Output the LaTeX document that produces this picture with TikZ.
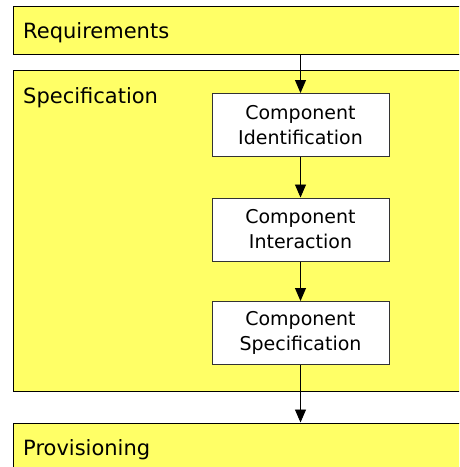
\documentclass[tikz,border=0pt]{standalone}
\usepackage{fontspec}
\setmainfont{DejaVu Sans}
\usetikzlibrary{arrows.meta}
\definecolor{phase}{RGB}{255,255,102}
\begin{document}
\begin{tikzpicture}[x=1pt,y=-1pt,
		phasebox/.style={draw=black,fill=phase,line width=1pt,inner sep=0pt,anchor=north west,minimum width=600pt},
		phaselabel/.style={anchor=base west,inner sep=0pt,font=\fontsize{21}{25}\selectfont},
		taskbox/.style={draw=black!80,fill=white,line width=1pt,inner sep=0pt,minimum width=177pt,minimum height=63pt,align=center,font=\fontsize{19}{25}\selectfont},
		flow/.style={-{Triangle[length=13pt,width=11pt]},line width=0.9pt}]
		\useasboundingbox (0,0) rectangle (459,467);
		\clip (0,0) rectangle (459,467);
		% phases
		\node[phasebox,minimum height=48pt] (req) at (12.5,6) {};
		\node[phasebox,minimum height=321pt] (spec) at (12.5,69.5) {};
		\node[phasebox,minimum height=80pt] (prov) at (12.5,422.5) {};
		\node[phaselabel] (reqlabel) at (23,38) {Requirements};
		\node[phaselabel] (speclabel) at (23,103) {Specification};
		\node[phaselabel] (provlabel) at (23,455) {Provisioning};
		% tasks inside the specification phase
		\node[taskbox] (ident) at (300.5,125) {Component\\Identification};
		\node[taskbox] (inter) at (300.5,229.5) {Component\\Interaction};
		\node[taskbox] (cspec) at (300.5,333) {Component\\Specification};
		\draw[flow] (ident.north |- req.south) -- (ident);
		\draw[flow] (ident) -- (inter);
		\draw[flow] (inter) -- (cspec);
		\draw[flow] (cspec) -- (cspec.south |- prov.north);
	\end{tikzpicture}
\end{document}
